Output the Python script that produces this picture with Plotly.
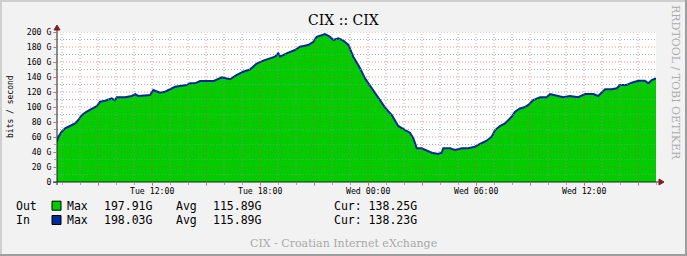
import plotly.graph_objects as go
import pandas as pd

# ---------------- data ----------------
# hours since Tue 00:00
hours = [6.72, 6.79, 6.98, 7.17, 7.44, 7.72, 7.91, 8.09, 8.37, 8.65, 8.93, 9.11, 9.39, 9.76,
         9.94, 10.04, 10.50, 10.87, 11.06, 11.24, 11.61, 11.89, 12.07, 12.44, 12.72, 13.00,
         13.28, 13.65, 13.93, 14.11, 14.39, 14.67, 15.13, 15.44, 15.87, 16.33, 16.71, 17.07,
         17.44, 17.82, 18.18, 18.56, 18.83, 19.02, 19.11, 19.48, 19.94, 20.22, 20.68, 20.96,
         21.15, 21.61, 21.89, 22.07, 22.35, 22.63, 22.91, 23.18, 23.56, 23.83, 24.21, 24.57,
         24.94, 25.32, 25.68, 26.06, 26.33, 26.52, 26.71, 26.98, 27.26, 27.54, 27.91, 28.09,
         28.18, 28.56, 28.83, 29.21, 29.57, 29.94, 30.22, 30.59, 30.87, 31.06, 31.33, 31.61,
         31.98, 32.17, 32.44, 32.68, 32.91, 33.18, 33.56, 33.93, 34.11, 34.48, 34.85, 35.22,
         35.68, 36.06, 36.52, 36.79, 37.17, 37.54, 37.82, 38.00, 38.37, 38.65, 39.02, 39.39,
         39.57, 39.76, 39.94, 40.00]
out_vals = [53.7, 60.0, 67.0, 71.6, 74.7, 78.0, 82.7, 89.0, 94.0, 98.0, 101.0, 107.0, 108.4, 111.6,
            109.0, 113.0, 113.0, 114.7, 117.0, 114.7, 116.0, 116.0, 122.7, 119.0, 120.4, 123.6,
            127.0, 128.4, 129.3, 131.6, 131.6, 134.7, 134.2, 134.7, 139.6, 137.0, 142.7, 147.0,
            150.0, 158.0, 161.8, 165.0, 167.0, 171.6, 167.0, 171.6, 176.0, 180.4, 182.7, 187.0,
            193.7, 197.3, 193.7, 189.3, 191.6, 188.4, 182.7, 167.0, 151.6, 138.2, 125.0, 111.6,
            99.6, 89.3, 74.7, 69.3, 65.8, 58.2, 44.9, 45.0, 41.8, 39.0, 37.3, 39.0,
            45.0, 45.0, 42.7, 45.0, 45.0, 47.0, 50.7, 55.0, 60.4, 69.3, 74.7, 78.0,
            87.0, 93.8, 98.0, 99.6, 102.7, 109.3, 113.0, 113.0, 117.3, 114.7, 113.0, 114.7,
            113.0, 117.3, 117.3, 114.7, 123.6, 123.6, 125.0, 129.3, 129.3, 132.4, 135.0, 135.0,
            131.6, 136.0, 138.2, 138.2]
in_vals = [53.7, 60.0, 67.0, 71.6, 74.7, 78.0, 82.7, 89.0, 94.0, 98.0, 101.0, 107.0, 108.4, 111.6,
           109.0, 113.0, 113.0, 114.7, 117.0, 114.7, 116.0, 116.0, 122.7, 119.0, 120.4, 123.6,
           127.0, 128.4, 129.3, 131.6, 131.6, 134.7, 134.2, 134.7, 139.6, 137.0, 142.7, 147.0,
           150.0, 158.0, 161.8, 165.0, 167.0, 171.6, 167.0, 171.6, 176.0, 180.4, 182.7, 187.0,
           193.7, 197.3, 193.7, 189.3, 191.6, 188.4, 182.7, 167.0, 151.6, 138.2, 125.0, 111.6,
           99.6, 89.3, 74.7, 69.3, 65.8, 58.2, 44.9, 45.0, 41.8, 39.0, 37.3, 39.0,
           45.0, 45.0, 42.7, 45.0, 45.0, 47.0, 50.7, 55.0, 60.4, 69.3, 74.7, 78.0,
           87.0, 93.8, 98.0, 99.6, 102.7, 109.3, 113.0, 113.0, 117.3, 114.7, 113.0, 114.7,
           113.0, 117.3, 117.3, 114.7, 123.6, 123.6, 125.0, 129.3, 129.3, 132.4, 135.0, 135.0,
           131.6, 136.0, 138.2, 138.2]

series_names = ["Out", "In"]
series_colors = ["#00CC00", "#002A97"]
stat_max = ["197.91G", "198.03G"]
stat_avg = ["115.89G", "115.89G"]
stat_cur = ["138.25G", "138.23G"]

y_tick_vals = [0, 20, 40, 60, 80, 100, 120, 140, 160, 180, 200]
y_tick_text = ["0", "20 G", "40 G", "60 G", "80 G", "100 G", "120 G", "140 G", "160 G", "180 G", "200 G"]
x_major_hours = [9, 12, 15, 18, 21, 24, 27, 30, 33, 36, 39]
x_major_text = ["", "Tue 12:00", "", "Tue 18:00", "", "Wed 00:00", "", "Wed 06:00", "", "Wed 12:00", ""]
x_range_hours = [6.72, 40.0]
y_range = [0, 200]

title_text = "CIX :: CIX"
y_title = "bits / second"
watermark = "RRDTOOL / TOBI OETIKER"
footer = "CIX - Croatian Internet eXchange"

# ---------------- styling ----------------
W, H = 687, 256
L, R, T, B = 57, 31, 32, 74
PW, PH = W - L - R, H - T - B
BG = "#F2F2F2"
GRID = "rgba(143,143,143,0.75)"
MGRID = "rgba(222,79,79,0.6)"
ARROW = "#801F1F"
AXIS = "#1F1F1F"
MONO = "DejaVu Sans Mono"
SERIF = "DejaVu Serif"
DASH = "1px,2px"


def PX(px):
    return (px - L) / PW


def PY(py):
    return (H - B - py) / PH


base = pd.Timestamp("2024-01-02")  # a Tuesday
to_t = lambda h: base + pd.to_timedelta(h, unit="h")
times = [to_t(h) for h in hours]

fig = go.Figure()
fig.add_trace(go.Scatter(x=times, y=out_vals, mode="lines", fill="tozeroy",
                         fillcolor=series_colors[0], line=dict(width=0, color=series_colors[0]),
                         name=series_names[0], hoverinfo="skip"))
fig.add_trace(go.Scatter(x=times, y=in_vals, mode="lines",
                         line=dict(width=2, color=series_colors[1]),
                         name=series_names[1], hoverinfo="skip"))

shapes = []
# grid (drawn above data like rrdtool)
for h in range(int(x_range_hours[0]) + 1, int(x_range_hours[1]) + 1):
    if h >= x_range_hours[1]:
        continue
    col = MGRID if h in x_major_hours else GRID
    shapes.append(dict(type="line", xref="x", yref="y", x0=to_t(h), x1=to_t(h), y0=y_range[0], y1=y_range[1],
                       line=dict(color=col, width=1, dash=DASH), layer="above"))
for v in range(10, 201, 10):
    col = MGRID if v in y_tick_vals else GRID
    shapes.append(dict(type="line", xref="paper", yref="y", x0=0, x1=1, y0=v, y1=v,
                       line=dict(color=col, width=1, dash=DASH), layer="above"))

# axis lines + arrows
shapes.append(dict(type="line", xref="paper", yref="paper", x0=PX(53), x1=PX(660), y0=0, y1=0,
                   line=dict(color=AXIS, width=1), layer="above"))
shapes.append(dict(type="line", xref="paper", yref="paper", x0=0, x1=0, y0=PY(185), y1=PY(29),
                   line=dict(color=AXIS, width=1), layer="above"))
shapes.append(dict(type="path", xref="paper", yref="paper",
                   path=f"M {PX(54)} {PY(30)} L {PX(57)} {PY(25)} L {PX(60)} {PY(30)} Z",
                   fillcolor=ARROW, line=dict(color=ARROW, width=1), layer="above"))
shapes.append(dict(type="path", xref="paper", yref="paper",
                   path=f"M {PX(659)} {PY(179)} L {PX(664)} {PY(182)} L {PX(659)} {PY(185)} Z",
                   fillcolor=ARROW, line=dict(color=ARROW, width=1), layer="above"))

# frame shading
shapes.append(dict(type="rect", xref="paper", yref="paper", x0=PX(0), x1=PX(W), y0=PY(H), y1=PY(H - 2),
                   fillcolor="#9E9E9E", line=dict(width=0)))
shapes.append(dict(type="rect", xref="paper", yref="paper", x0=PX(W - 2), x1=PX(W), y0=PY(H), y1=PY(0),
                   fillcolor="#9E9E9E", line=dict(width=0)))
shapes.append(dict(type="rect", xref="paper", yref="paper", x0=PX(0), x1=PX(W - 2), y0=PY(2), y1=PY(0),
                   fillcolor="#CFCFCF", line=dict(width=0)))
shapes.append(dict(type="rect", xref="paper", yref="paper", x0=PX(0), x1=PX(2), y0=PY(H - 2), y1=PY(0),
                   fillcolor="#CFCFCF", line=dict(width=0)))

annotations = []
annotations.append(dict(text=title_text, xref="paper", yref="paper", x=PX(343.5), y=PY(20),
                        xanchor="center", yanchor="middle", showarrow=False,
                        font=dict(family=SERIF, size=14, color="#000000")))
annotations.append(dict(text=y_title, xref="paper", yref="paper", x=PX(10), y=PY(107),
                        xanchor="center", yanchor="middle", showarrow=False, textangle=-90,
                        font=dict(family=MONO, size=8, color="#000000")))
annotations.append(dict(text=watermark, xref="paper", yref="paper", x=PX(676), y=PY(82),
                        xanchor="center", yanchor="middle", showarrow=False, textangle=90,
                        font=dict(family=SERIF, size=11, color="#ABABAB")))
annotations.append(dict(text=footer, xref="paper", yref="paper", x=PX(343), y=PY(243),
                        xanchor="center", yanchor="middle", showarrow=False,
                        font=dict(family=SERIF, size=11, color="#A8A8A8")))

# x tick labels (placed as text just under the axis)
for h, txt in zip(x_major_hours, x_major_text):
    if txt:
        annotations.append(dict(text=txt, xref="x", yref="paper", x=to_t(h), y=PY(190.5),
                                xanchor="center", yanchor="middle", showarrow=False,
                                borderpad=0, borderwidth=0,
                                font=dict(family=MONO, size=8.2, color="#000000")))

row_y = [205.7, 220.0]
lf = dict(family=MONO, size=11.5, color="#000000")
for i in range(2):
    yy = PY(row_y[i])
    for px, txt in [(16, series_names[i]), (66.7, "Max"), (104.3, stat_max[i]), (176, "Avg"),
                    (213, stat_avg[i]), (334, "Cur: " + stat_cur[i])]:
        annotations.append(dict(text=txt, xref="paper", yref="paper", x=PX(px), y=yy,
                                xanchor="left", yanchor="middle", showarrow=False,
                                borderpad=0, borderwidth=0, font=lf))
    shapes.append(dict(type="rect", xref="paper", yref="paper",
                       x0=PX(52), x1=PX(61), y0=PY(row_y[i] + 4.5), y1=PY(row_y[i] - 4.5),
                       fillcolor=series_colors[i], line=dict(color="#000000", width=1)))

fig.update_layout(
    width=W, height=H, margin=dict(l=L, r=R, t=T, b=B, pad=0),
    paper_bgcolor=BG, plot_bgcolor="#FFFFFF", showlegend=False,
    shapes=shapes, annotations=annotations,
    xaxis=dict(type="date", range=[to_t(x_range_hours[0]), to_t(x_range_hours[1])],
               tickmode="array", tickvals=[to_t(h) for h in x_major_hours],
               ticktext=["" for _ in x_major_hours],
               ticks="outside", ticklen=3, tickcolor=MGRID, tickwidth=1,
               showgrid=False, zeroline=False, showline=False, fixedrange=True,
               minor=dict(dtick=3600000, ticks="outside", ticklen=2, tickcolor=GRID, showgrid=False)),
    yaxis=dict(range=y_range, tickmode="array", tickvals=y_tick_vals, ticktext=y_tick_text,
               ticks="outside", ticklen=3, tickcolor=MGRID, tickwidth=1,
               tickfont=dict(family=MONO, size=8.2, color="#000000"),
               showgrid=False, zeroline=False, showline=False, fixedrange=True,
               minor=dict(dtick=10, ticks="outside", ticklen=2, tickcolor=GRID, showgrid=False)),
)

fig.write_html("out.html")
